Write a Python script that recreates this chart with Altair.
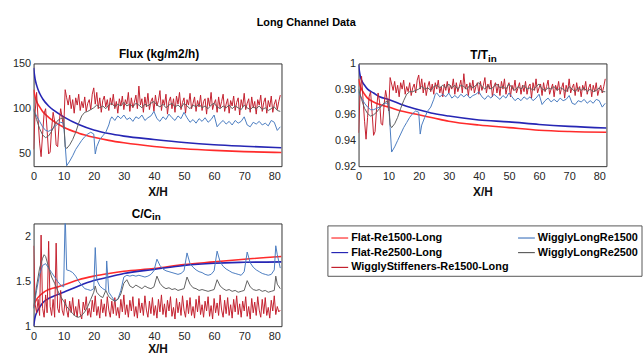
import altair as alt
import pandas as pd

FONT = "Liberation Sans"

# legend fills column by column: first column = first three names
NAMES = ["Flat-Re1500-Long", "Flat-Re2500-Long", "WigglyStiffeners-Re1500-Long",
         "WigglyLongRe1500", "WigglyLongRe2500"]
COLORS = ["#ff2b2b", "#2626b4", "#c3202e", "#4a7cc0", "#5f5f5f"]

X_DOMAIN = [0, 82.4]
X_TICKS = [0, 10, 20, 30, 40, 50, 60, 70, 80]

# ---------- smooth (flat channel) curves ----------
SMOOTH_X = [0, 0.5, 1, 2, 3, 5, 7, 10, 15, 20, 25, 30, 40, 50, 60, 70, 82.4]
FLUX_F1500 = [121, 113, 108, 102, 97, 90.5, 85.5, 79.5, 73, 68.5, 65, 62.3, 58.3, 55.7, 53.9, 52.6, 51.6]
FLUX_F2500 = [145, 133, 126, 117, 111, 103, 97.5, 91, 82.5, 76.5, 72.5, 69.7, 66, 62.7, 60.2, 58.5, 56.8]
T_F1500 = [0.988, 0.983, 0.980, 0.976, 0.973, 0.970, 0.968, 0.966, 0.9625, 0.960, 0.9575, 0.955, 0.952, 0.950, 0.948, 0.947, 0.9464]
T_F2500 = [0.999, 0.991, 0.987, 0.983, 0.980, 0.977, 0.974, 0.972, 0.9675, 0.964, 0.961, 0.959, 0.956, 0.9545, 0.9525, 0.951, 0.9497]
C_F1500 = [1.22, 1.27, 1.30, 1.34, 1.37, 1.41, 1.43, 1.46, 1.52, 1.56, 1.59, 1.615, 1.645, 1.69, 1.72, 1.75, 1.78]
C_F2500 = [1.0, 1.10, 1.15, 1.21, 1.26, 1.31, 1.34, 1.38, 1.45, 1.51, 1.55, 1.59, 1.635, 1.68, 1.705, 1.715, 1.72]

# ---------- wiggly stiffeners (sampled every 0.5 X/H) ----------
STIFF_X = [i * 0.5 for i in range(165)]
FLUX_STIFF = [
    55, 95, 118, 88, 62, 47, 72, 95, 100, 76,
    50, 52, 78, 96, 86, 60, 58, 84, 100, 90,
    78, 121, 112, 104, 115, 100, 110, 95, 112, 104,
    116, 98, 108, 101, 113, 97, 106, 110, 99, 116,
    123, 105, 118, 100, 112, 96, 109, 114, 102, 110,
    98, 112, 104, 116, 100, 108, 95, 111, 103, 114,
    99, 110, 105, 118, 97, 112, 101, 107, 115, 100,
    125, 104, 111, 96, 113, 102, 117, 99, 108, 112,
    97, 115, 103, 109, 120, 98, 110, 104, 116, 94,
    108, 113, 100, 111, 96, 114, 105, 118, 99, 107,
    112, 95, 110, 104, 117, 100, 106, 113, 97, 109,
    102, 115, 98, 108, 111, 94, 112, 103, 118, 99,
    106, 110, 96, 113, 101, 108, 116, 97, 105, 111,
    95, 109, 103, 114, 98, 107, 112, 93, 110, 102,
    117, 99, 106, 111, 96, 113, 101, 108, 94, 110,
    104, 115, 97, 107, 112, 95, 109, 102, 114, 96,
    105, 110, 99, 108, 115]
T_STIFF = [
    0.946, 0.975, 0.990, 0.972, 0.955, 0.941, 0.958, 0.974, 0.978, 0.962,
    0.944, 0.947, 0.965, 0.977, 0.970, 0.953, 0.952, 0.968, 0.979, 0.972,
    0.963, 0.989, 0.984, 0.979, 0.986, 0.977, 0.983, 0.974, 0.985, 0.980,
    0.987, 0.976, 0.982, 0.978, 0.985, 0.975, 0.981, 0.984, 0.977, 0.987,
    0.991, 0.980, 0.988, 0.977, 0.985, 0.975, 0.982, 0.986, 0.978, 0.984,
    0.976, 0.985, 0.980, 0.987, 0.977, 0.982, 0.974, 0.984, 0.979, 0.986,
    0.977, 0.983, 0.980, 0.988, 0.976, 0.985, 0.978, 0.982, 0.987, 0.977,
    0.992, 0.980, 0.984, 0.975, 0.985, 0.979, 0.987, 0.977, 0.982, 0.985,
    0.976, 0.986, 0.979, 0.983, 0.989, 0.977, 0.984, 0.980, 0.987, 0.974,
    0.982, 0.985, 0.977, 0.984, 0.975, 0.986, 0.980, 0.988, 0.976, 0.982,
    0.985, 0.974, 0.983, 0.979, 0.987, 0.977, 0.981, 0.985, 0.976, 0.983,
    0.978, 0.986, 0.976, 0.982, 0.984, 0.973, 0.985, 0.979, 0.988, 0.977,
    0.981, 0.984, 0.975, 0.985, 0.978, 0.982, 0.987, 0.976, 0.980, 0.984,
    0.974, 0.983, 0.979, 0.986, 0.976, 0.981, 0.985, 0.973, 0.983, 0.978,
    0.988, 0.977, 0.981, 0.984, 0.975, 0.985, 0.978, 0.982, 0.974, 0.983,
    0.979, 0.986, 0.976, 0.981, 0.984, 0.974, 0.983, 0.978, 0.985, 0.975,
    0.980, 0.983, 0.977, 0.982, 0.988]
C_STIFF = [
    1.90, 1.25, 1.15, 1.30, 1.12, 2.02, 1.20, 1.10, 1.35, 1.15,
    1.95, 1.22, 1.12, 1.30, 1.10, 1.93, 1.20, 1.15, 1.40, 1.18,
    1.12, 1.30, 1.18, 1.10, 1.28, 1.15, 1.32, 1.12, 1.22, 1.10,
    1.30, 1.14, 1.08, 1.27, 1.18, 1.33, 1.12, 1.20, 1.10, 1.29,
    1.16, 1.34, 1.12, 1.22, 1.09, 1.30, 1.15, 1.25, 1.11, 1.33,
    1.18, 1.10, 1.28, 1.14, 1.32, 1.12, 1.21, 1.09, 1.30, 1.16,
    1.35, 1.13, 1.24, 1.10, 1.29, 1.17, 1.33, 1.11, 1.22, 1.09,
    1.31, 1.15, 1.26, 1.12, 1.34, 1.18, 1.10, 1.28, 1.14, 1.32,
    1.12, 1.23, 1.09, 1.30, 1.16, 1.35, 1.13, 1.25, 1.10, 1.29,
    1.17, 1.33, 1.11, 1.21, 1.08, 1.31, 1.15, 1.27, 1.12, 1.34,
    1.18, 1.10, 1.29, 1.14, 1.32, 1.12, 1.22, 1.09, 1.30, 1.16,
    1.34, 1.13, 1.24, 1.10, 1.28, 1.17, 1.33, 1.11, 1.23, 1.08,
    1.31, 1.15, 1.26, 1.12, 1.35, 1.18, 1.10, 1.29, 1.14, 1.32,
    1.12, 1.24, 1.09, 1.30, 1.16, 1.34, 1.13, 1.25, 1.10, 1.28,
    1.17, 1.33, 1.11, 1.22, 1.08, 1.31, 1.15, 1.27, 1.12, 1.33,
    1.18, 1.10, 1.30, 1.14, 1.32, 1.12, 1.21, 1.09, 1.29, 1.17,
    1.34, 1.13, 1.22, 1.16, 1.18]

# ---------- wiggly long channel, Re 2500 (gray) ----------
GRAY_X_FT = list(range(0, 11)) + [10.5] + list(range(11, 83))
FLUX_GRAY = [100, 88, 78, 71, 68, 70, 75, 82, 87, 89, 90, 58,
             56, 60, 66, 74, 84, 92, 96, 97, 99, 101,
             104, 101, 103, 100, 104, 106, 102, 105, 103, 107,
             103, 105, 102, 106, 104, 101, 105, 103, 106, 108,
             104, 102, 105, 101, 104, 106, 102, 104, 101, 106,
             103, 100, 104, 102, 105, 101, 103, 100, 104, 106,
             102, 100, 103, 101, 104, 100, 103, 101, 99, 104,
             101, 99, 102, 100, 103, 99, 101, 98, 100, 102,
             98, 97]
T_GRAY = [0.980, 0.972, 0.965, 0.961, 0.959, 0.960, 0.962, 0.965, 0.968, 0.970, 0.971, 0.952,
          0.950, 0.953, 0.958, 0.965, 0.971, 0.976, 0.978, 0.978, 0.979, 0.980,
          0.982, 0.980, 0.981, 0.979, 0.982, 0.983, 0.981, 0.983, 0.981, 0.984,
          0.981, 0.983, 0.980, 0.983, 0.982, 0.980, 0.983, 0.981, 0.983, 0.985,
          0.982, 0.980, 0.983, 0.980, 0.982, 0.984, 0.981, 0.982, 0.980, 0.984,
          0.981, 0.979, 0.982, 0.980, 0.983, 0.980, 0.981, 0.979, 0.982, 0.984,
          0.980, 0.979, 0.981, 0.980, 0.982, 0.979, 0.981, 0.980, 0.978, 0.982,
          0.980, 0.978, 0.981, 0.979, 0.981, 0.978, 0.980, 0.978, 0.979, 0.981,
          0.978, 0.978]
GRAY_X_C = [0, 1, 2, 3, 3.5] + list(range(4, 21)) + [20.5] + list(range(21, 81)) + [80.5, 81, 82]
C_GRAY = [1.20, 1.45, 1.65, 1.76, 1.80, 1.78, 1.66, 1.55, 1.48, 1.40, 1.33, 1.28,
          1.22, 1.18, 1.14, 1.11, 1.10, 1.12, 1.16, 1.22, 1.30, 1.38,
          1.45,
          1.38, 1.34, 1.32, 1.40, 1.33, 1.30, 1.28, 1.30, 1.36, 1.48,
          1.52, 1.45, 1.43, 1.46, 1.44, 1.42, 1.45, 1.43, 1.42, 1.44,
          1.56, 1.48, 1.44, 1.42, 1.43, 1.41, 1.42, 1.40, 1.41, 1.42,
          1.55, 1.47, 1.43, 1.42, 1.40, 1.41, 1.40, 1.39, 1.40, 1.41,
          1.52, 1.45, 1.42, 1.40, 1.41, 1.39, 1.40, 1.38, 1.39, 1.40,
          1.51, 1.44, 1.41, 1.40, 1.41, 1.39, 1.40, 1.38, 1.39, 1.40,
          1.56, 1.47, 1.42]

# ---------- wiggly long channel, Re 1500 (steel blue) ----------
BLUE_X_FT = (list(range(0, 11)) + [10.5] + list(range(11, 21)) + [20.5]
             + list(range(21, 26)) + [25.5] + list(range(26, 83)))
FLUX_BLUE = [98, 92, 86, 80, 76, 75, 77, 80, 83, 85, 84, 60,
             37, 42, 48, 55, 60, 65, 69, 72, 74, 72, 50,
             58, 66, 70, 74, 82, 88,
             91, 87, 92, 89, 93, 88, 90, 86, 91, 89,
             93, 87, 90, 92, 97, 89, 86, 91, 88, 94,
             90, 87, 92, 89, 96, 90, 85, 88, 84, 89,
             86, 90, 85, 88, 93, 80, 84, 87, 83, 86,
             82, 87, 84, 86, 91, 82, 80, 85, 83, 86,
             82, 84, 81, 87, 85, 76, 80]
T_BLUE = [0.978, 0.973, 0.969, 0.966, 0.964, 0.964, 0.965, 0.966, 0.968, 0.969, 0.969, 0.950,
          0.931, 0.935, 0.940, 0.945, 0.950, 0.954, 0.958, 0.961, 0.963, 0.962, 0.945,
          0.952, 0.958, 0.963, 0.966, 0.972, 0.976,
          0.977, 0.974, 0.976, 0.974, 0.977, 0.973, 0.975, 0.973, 0.976, 0.974,
          0.976, 0.973, 0.975, 0.976, 0.978, 0.974, 0.972, 0.975, 0.973, 0.976,
          0.974, 0.972, 0.975, 0.973, 0.977, 0.974, 0.971, 0.973, 0.971, 0.974,
          0.972, 0.974, 0.971, 0.973, 0.976, 0.968, 0.971, 0.973, 0.970, 0.972,
          0.970, 0.973, 0.971, 0.972, 0.975, 0.969, 0.968, 0.971, 0.970, 0.972,
          0.969, 0.971, 0.969, 0.972, 0.971, 0.966, 0.969]
BLUE_X_C = (list(range(0, 11)) + [10.5] + list(range(11, 21)) + [20.5]
            + list(range(21, 25)) + [24.3] + list(range(25, 81)) + [80.5, 81, 82])
C_BLUE = [1.20, 1.40, 1.58, 1.68, 1.70, 1.65, 1.60, 1.55, 1.50, 1.46, 1.44, 2.25,
          1.63, 1.62, 1.60, 1.56, 1.50, 1.46, 1.42, 1.41, 1.40, 1.42, 1.88,
          1.52, 1.45, 1.42, 1.40, 1.73,
          1.38, 1.33, 1.28, 1.30, 1.40, 1.55, 1.57, 1.56, 1.57, 1.56,
          1.57, 1.56, 1.55, 1.56, 1.58, 1.62, 1.75, 1.68, 1.64, 1.62,
          1.61, 1.60, 1.59, 1.58, 1.59, 1.62, 1.82, 1.70, 1.66, 1.63,
          1.61, 1.60, 1.58, 1.57, 1.58, 1.62, 1.84, 1.72, 1.67, 1.64,
          1.62, 1.60, 1.59, 1.58, 1.57, 1.61, 1.83, 1.71, 1.66, 1.63,
          1.61, 1.59, 1.58, 1.57, 1.58, 1.63,
          1.90, 1.80, 1.65]


def frame(xs, ys, name):
    assert len(xs) == len(ys), (name, len(xs), len(ys))
    return pd.DataFrame({"x": xs, "y": ys, "series": name})


PLOT_W, PLOT_H = 251, 104


def panel(series, ydom, yticks, titles, legend, x_title_pad):
    color = alt.Color("series:N", scale=alt.Scale(domain=NAMES, range=COLORS), legend=legend)
    xaxis = alt.Axis(values=X_TICKS, title="X/H", labelFontSize=11, titleFontSize=12,
                     titleFontWeight="bold", ticks=False, domain=False, grid=False,
                     labelPadding=5, titlePadding=x_title_pad, labelFlush=False,
                     labelColor="#262626", titleColor="#111111", labelFont=FONT, titleFont=FONT)
    yaxis = alt.Axis(values=yticks, labelExpr="datum.value + ''", title=None, ticks=False,
                     domain=False, grid=False, labelPadding=3, labelFontSize=11,
                     labelColor="#262626", labelFont=FONT)
    layers = []
    for df, width, interp in series:
        layers.append(
            alt.Chart(df).mark_line(clip=True, strokeWidth=width, interpolate=interp).encode(
                x=alt.X("x:Q", scale=alt.Scale(domain=X_DOMAIN, nice=False, zero=False), axis=xaxis),
                y=alt.Y("y:Q", scale=alt.Scale(domain=ydom, nice=False, zero=False), axis=yaxis),
                color=color,
            )
        )
    for text, size, align, base, px, py in titles:
        layers.append(
            alt.Chart(pd.DataFrame({"t": [text]})).mark_text(
                font=FONT, fontSize=size, fontWeight="bold", align=align,
                baseline=base, color="#000000"
            ).encode(x=alt.value(px), y=alt.value(py), text="t:N")
        )
    return alt.layer(*layers).properties(width=PLOT_W, height=PLOT_H)


def by_name(name):
    return name


p1 = panel(
    [(frame(SMOOTH_X, FLUX_F1500, "Flat-Re1500-Long"), 1.6, "monotone"),
     (frame(SMOOTH_X, FLUX_F2500, "Flat-Re2500-Long"), 1.6, "monotone"),
     (frame(STIFF_X, FLUX_STIFF, "WigglyStiffeners-Re1500-Long"), 1.0, "linear"),
     (frame(BLUE_X_FT, FLUX_BLUE, "WigglyLongRe1500"), 1.0, "linear"),
     (frame(GRAY_X_FT, FLUX_GRAY, "WigglyLongRe2500"), 1.0, "linear")],
    [36.5, 150], [50, 100, 150],
    [("Flux (kg/m2/h)", 12, "center", "alphabetic", 127, -6),
     ("Long Channel Data", 11, "center", "middle", 276, -41)],
    None, 5)

p2 = panel(
    [(frame(SMOOTH_X, T_F1500, "Flat-Re1500-Long"), 1.6, "monotone"),
     (frame(SMOOTH_X, T_F2500, "Flat-Re2500-Long"), 1.6, "monotone"),
     (frame(STIFF_X, T_STIFF, "WigglyStiffeners-Re1500-Long"), 1.0, "linear"),
     (frame(BLUE_X_FT, T_BLUE, "WigglyLongRe1500"), 1.0, "linear"),
     (frame(GRAY_X_FT, T_GRAY, "WigglyLongRe2500"), 1.0, "linear")],
    [0.92, 1.0], [0.92, 0.94, 0.96, 0.98, 1.0],
    [("T/T", 12, "right", "alphabetic", 131, -4),
     ("in", 10, "left", "alphabetic", 131, -1)],
    None, 5)

legend = alt.Legend(orient="none", legendX=297.5, legendY=2, columns=2, title=None,
                    symbolType="stroke", symbolSize=289, symbolStrokeWidth=1.2,
                    labelFontSize=11, labelFontWeight="bold", labelFont=FONT,
                    labelColor="#000000", labelOffset=2, rowPadding=0, columnPadding=6,
                    padding=3, strokeColor="#555555", fillColor="#ffffff")

p3 = panel(
    [(frame(SMOOTH_X, C_F1500, "Flat-Re1500-Long"), 1.6, "monotone"),
     (frame(SMOOTH_X, C_F2500, "Flat-Re2500-Long"), 1.6, "monotone"),
     (frame(STIFF_X, C_STIFF, "WigglyStiffeners-Re1500-Long"), 1.0, "linear"),
     (frame(BLUE_X_C, C_BLUE, "WigglyLongRe1500"), 1.0, "linear"),
     (frame(GRAY_X_C, C_GRAY, "WigglyLongRe2500"), 1.0, "linear")],
    [1.0, 2.15], [1.0, 1.5, 2.0],
    [("C/C", 12, "right", "alphabetic", 120, -6),
     ("in", 10, "left", "alphabetic", 120, -3)],
    legend, 2)

chart = alt.concat(
    p1, p2, p3, columns=2, spacing={"row": 58, "column": 78}, bounds="flush"
).resolve_scale(
    x="independent", y="independent", color="independent"
).properties(
    padding={"left": 12, "top": 14, "right": 0, "bottom": 0},
    background="white",
).configure(font=FONT).configure_view(stroke="#333333", strokeWidth=1)

chart.save("out.html", embed_options={"renderer": "svg", "actions": False})
